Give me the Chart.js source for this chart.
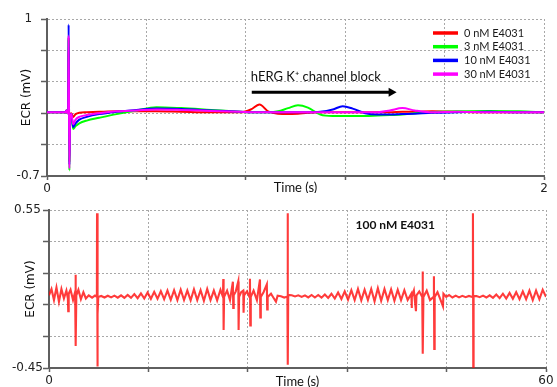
<!DOCTYPE html>
<html lang="en">
<head>
<meta charset="UTF-8">
<title>ECR traces with E4031</title>
<script src="https://cdn.jsdelivr.net/npm/chart.js@4"></script>
<style>
  html, body { margin:0; padding:0; background:#fff; }
  #wrap { position:relative; width:557px; height:387px; overflow:hidden; }
  #topBox { position:absolute; left:0; top:0; width:557px; height:193px; }
  #bottomBox { position:absolute; left:0; top:193px; width:557px; height:194px; }
</style>
</head>
<body>
<div id="wrap">
  <div id="topBox"><canvas id="topChart"></canvas></div>
  <div id="bottomBox"><canvas id="bottomChart"></canvas></div>
</div>
<script>
// ---- top panel: ECR vs time (s) for four E4031 concentrations ----
const topTime = [0, 0.074, 0.078, 0.082, 0.085, 0.087, 0.090, 0.093, 0.098, 0.105,
  0.115, 0.13, 0.16, 0.21, 0.28, 0.36, 0.44, 0.54, 0.66, 0.78,
  0.82, 0.855, 0.89, 0.93, 0.97, 1.01, 1.05, 1.10, 1.15, 1.19,
  1.23, 1.28, 1.33, 1.38, 1.43, 1.48, 1.55, 1.65, 1.78, 1.90, 2.0];
const ecr0nM = [-0.01, -0.01, 0.01, -0.02, -0.01, 0.80, -0.55, -0.03, -0.02, -0.06,
  -0.03, -0.015, -0.01, -0.005, 0.0, 0.0, 0.0, -0.005, -0.01, -0.01,
  0.02, 0.075, 0.0, -0.025, -0.03, -0.025, -0.015, -0.01, -0.01, -0.01,
  -0.01, -0.01, -0.01, -0.01, -0.005, -0.005, 0.0, -0.005, -0.01, -0.01, -0.01];
const ecr3nM = [-0.01, -0.01, 0.01, -0.02, -0.01, 0.78, -0.64, -0.05, -0.04, -0.19,
  -0.16, -0.13, -0.10, -0.07, -0.03, 0.01, 0.045, 0.035, 0.015, -0.005,
  -0.01, -0.01, -0.01, 0.0, 0.035, 0.065, 0.04, -0.035, -0.05, -0.05,
  -0.05, -0.05, -0.045, -0.04, -0.035, -0.02, -0.01, 0.0, 0.005, 0.0, -0.01];
const ecr10nM = [-0.01, -0.01, 0.01, -0.02, -0.01, 0.94, -0.58, -0.04, -0.03, -0.17,
  -0.13, -0.09, -0.06, -0.03, -0.005, 0.015, 0.03, 0.025, 0.01, -0.005,
  -0.01, -0.01, -0.01, -0.01, -0.01, -0.01, -0.01, -0.005, 0.02, 0.055,
  0.03, -0.02, -0.035, -0.035, -0.03, -0.025, -0.015, -0.01, -0.005, -0.01, -0.01];
const ecr30nM = [-0.01, -0.01, 0.01, -0.02, -0.01, 0.82, -0.62, -0.04, -0.03, -0.14,
  -0.09, -0.06, -0.04, -0.02, 0.0, 0.01, 0.02, 0.015, 0.005, -0.005,
  -0.01, -0.01, -0.01, -0.01, -0.01, -0.01, -0.01, -0.01, -0.01, -0.01,
  -0.01, -0.01, -0.01, 0.01, 0.035, 0.01, -0.01, -0.005, -0.01, -0.01, -0.01];
const topLabels = ['0 nM E4031', '3 nM E4031', '10 nM E4031', '30 nM E4031'];
const topColors = ['#ff0000', '#00ff00', '#0000ff', '#ff00ff'];
const topXTicks = ['0', '', '', '', '', '2'];
const topYTicks = ['-0.7', '', '', '', '', '1'];
const blockText = 'hERG K\u207A channel block';
const blockArrow = [0.824, 1.407];   // time span of the arrow (s)
const blockArrowLevel = 0.206;       // ECR level of the arrow
const blockTextLevel = 0.375;

// ---- bottom panel: 60 s trace at 100 nM ----
const bottomTime = [0.0, 0.3, 0.6, 0.9, 1.2, 1.5, 1.8, 2.1, 2.28, 2.32, 2.38, 2.6, 2.9, 3.15, 3.2, 3.24, 3.3, 3.55, 3.85, 4.15,
  4.45, 4.8, 5.2, 5.55, 5.78, 5.8, 5.83, 5.86, 5.9, 5.95, 6.3, 6.7, 7.1, 7.5, 7.9, 8.3, 8.7, 9.1,
  9.5, 9.9, 10.3, 10.7, 11.1, 11.5, 11.9, 12.3, 12.7, 13.1, 13.5, 13.9, 14.3, 14.7, 15.1, 15.5, 15.9, 16.3, 16.7, 17.1,
  17.5, 17.9, 18.3, 18.7, 19.1, 19.5, 19.9, 20.3, 20.7, 21.0, 21.04, 21.08, 21.14, 21.5, 21.85, 22.2, 22.24, 22.3, 22.55,
  22.85, 22.89, 22.95, 23.2, 23.45, 23.49, 23.55, 23.9, 24.2, 24.26, 24.30, 24.36, 24.7, 25.1, 25.47, 25.51, 25.57, 25.9,
  26.3, 26.34, 26.4, 26.8, 27.1, 27.4, 27.6, 28.0, 28.4, 28.78, 28.81, 28.84, 28.88, 29.3, 29.7, 30.1, 30.5, 30.9, 31.3,
  31.7, 32.1, 32.5, 32.9, 33.3, 33.7, 34.1, 34.5, 34.9, 35.3, 35.7, 36.1, 36.5, 36.9, 37.3, 37.7, 38.1, 38.5, 38.9, 39.3,
  39.7, 40.1, 40.5, 40.9, 41.3, 41.7, 42.1, 42.5, 42.9, 43.3, 43.74, 43.78, 43.82, 44.05, 44.3, 44.36, 44.7, 45.06, 45.1,
  45.14, 45.2, 45.6, 46.0, 46.43, 46.47, 46.51, 46.56, 46.9, 47.2, 47.56, 47.62, 47.95, 48.3, 48.7, 49.1, 49.5, 49.9, 50.3,
  50.7, 51.1, 51.18, 51.22, 51.26, 51.6, 52.0, 52.4, 52.8, 53.2, 53.6, 54.0, 54.4, 54.8, 55.2, 55.6, 56.0, 56.4, 56.8,
  57.2, 57.6, 58.0, 58.4, 58.8, 59.2, 59.6, 60.0];
const bottomEcr = [0.01, 0.05, -0.02, 0.06, -0.03, 0.05, -0.01, 0.04, -0.01, -0.09, 0.02, 0.045, -0.02, 0.03, 0.14, -0.31, 0.01, 0.045, -0.015, 0.03,
  -0.01, 0.01, -0.005, 0.008, 0.0, 0.53, -0.44, 0.01, -0.11, 0.0, 0.006, -0.004, 0.007, -0.003, 0.008, -0.005, 0.01, -0.006,
  0.012, -0.006, 0.018, -0.008, 0.022, -0.01, 0.028, -0.012, 0.032, -0.012, 0.036, -0.015, 0.04, -0.018, 0.042, -0.02, 0.045, -0.02, 0.04, -0.022,
  0.048, -0.02, 0.042, -0.025, 0.05, -0.02, 0.04, -0.022, 0.045, 0.0, 0.113, -0.21, 0.0, 0.04, -0.02, 0.096, -0.07, 0.01, 0.035,
  0.098, -0.21, 0.0, 0.03, 0.04, -0.1, 0.01, 0.035, 0.0, 0.115, -0.18, 0.0, 0.04, -0.02, 0.11, -0.13, 0.0, 0.03,
  0.08, -0.08, 0.0, 0.02, -0.005, -0.03, 0.008, 0.004, -0.004, 0.002, 0.53, -0.43, 0.012, 0.01, 0.003, 0.01, 0.0, 0.01, -0.003,
  0.012, -0.004, 0.012, -0.005, 0.015, -0.007, 0.02, -0.01, 0.028, -0.013, 0.035, -0.018, 0.042, -0.02, 0.05, -0.022, 0.045, -0.02, 0.05, -0.028,
  0.055, -0.025, 0.05, -0.02, 0.048, -0.025, 0.045, -0.02, 0.042, -0.02, 0.02, -0.07, 0.0, 0.04, -0.09, 0.01, 0.035, 0.0, 0.16,
  -0.36, 0.0, 0.04, -0.02, 0.0, 0.13, -0.33, 0.0, 0.03, -0.01, -0.06, 0.02, 0.0, 0.012, -0.004, 0.008, -0.003, 0.007, -0.002,
  0.006, 0.0, 0.53, -0.445, 0.005, 0.006, -0.002, 0.008, -0.004, 0.01, -0.006, 0.015, -0.008, 0.02, -0.01, 0.025, -0.012, 0.03, -0.015,
  0.035, -0.015, 0.04, -0.02, 0.04, -0.015, 0.045, 0.0];
const bottomLabel = '100 nM E4031';
const bottomLabelPos = [37.0, 0.452];
const bottomXTicks = ['0', '', '', '', '', '60'];
const bottomYTicks = ['-0.45', '', '', '', '', '0.55'];

Chart.defaults.font.family = "'DejaVu Sans', sans-serif";
Chart.defaults.color = '#222';

const axisColor = '#5f5f5f';
const gridColor = '#a8a8a8';

function panelOptions(p) {
  return {
    responsive: true,
    maintainAspectRatio: false,
    animation: false,
    devicePixelRatio: 1,
    layout: { padding: { top: p.padTop, right: p.padRight, left: 0, bottom: 0 } },
    plugins: { legend: { display: false }, tooltip: { enabled: false } },
    scales: {
      x: {
        type: 'linear', min: p.xMin, max: p.xMax,
        afterFit: s => { s.height = p.xHeight; },
        ticks: { stepSize: p.xStep, autoSkip: false, maxRotation: 0, padding: 2,
          font: { size: 12 }, callback: (v, i) => p.xTicks[i] },
        grid: { color: gridColor, lineWidth: 1, tickLength: 4, tickColor: axisColor, tickWidth: 1.5 },
        border: { color: axisColor, width: 2, dash: [2, 2] },
        title: { display: true, text: 'Time (s)', color: '#111',
          font: { family: 'Lato', size: 13 }, padding: { top: 0, bottom: -3 } }
      },
      y: {
        type: 'linear', min: p.yMin, max: p.yMax,
        afterFit: s => { s.width = p.yWidth; },
        ticks: { stepSize: p.yStep, autoSkip: false, crossAlign: 'center', padding: p.yTickPad,
          font: { size: 12 }, callback: (v, i) => p.yTicks[i] },
        grid: { color: gridColor, lineWidth: 1, tickLength: 6, tickColor: axisColor, tickWidth: 1.5 },
        border: { color: axisColor, width: 2, dash: [2, 2] },
        title: { display: true, text: 'ECR (mV)', color: '#111',
          font: { size: 12 }, padding: { top: p.yTitlePad, bottom: 0 } }
      }
    }
  };
}

// legend + hERG block arrow drawn inside the top plot
const topOverlay = {
  id: 'topOverlay',
  afterDatasetsDraw(chart) {
    const { ctx, scales: { x, y } } = chart;
    ctx.save();
    ctx.textBaseline = 'middle';
    ctx.font = "11px Lato, 'DejaVu Sans'";
    topLabels.forEach((lab, i) => {
      const ly = 33 + i * 13.7;
      ctx.strokeStyle = topColors[i];
      ctx.lineWidth = 3.5;
      ctx.beginPath(); ctx.moveTo(433, ly); ctx.lineTo(458, ly); ctx.stroke();
      ctx.fillStyle = '#1a1a1a';
      ctx.fillText(lab, 464, ly);
    });

    const x0 = x.getPixelForValue(blockArrow[0]);
    const x1 = x.getPixelForValue(blockArrow[1]);
    const ay = y.getPixelForValue(blockArrowLevel);
    ctx.strokeStyle = '#000';
    ctx.fillStyle = '#000';
    ctx.lineWidth = 3;
    ctx.beginPath(); ctx.moveTo(x0, ay); ctx.lineTo(x1 - 6, ay); ctx.stroke();
    ctx.beginPath(); ctx.moveTo(x1, ay); ctx.lineTo(x1 - 8, ay - 4.5); ctx.lineTo(x1 - 8, ay + 4.5); ctx.closePath(); ctx.fill();

    ctx.font = "13px Lato, 'DejaVu Sans'";
    ctx.fillStyle = '#111';
    ctx.fillText(blockText, x.getPixelForValue(blockArrow[0]) - 1, y.getPixelForValue(blockTextLevel));
    ctx.restore();
  }
};

const bottomOverlay = {
  id: 'bottomOverlay',
  afterDatasetsDraw(chart) {
    const { ctx, scales: { x, y } } = chart;
    ctx.save();
    ctx.textBaseline = 'middle';
    ctx.font = "bold 12px Lato, 'DejaVu Sans'";
    ctx.fillStyle = '#111';
    ctx.fillText(bottomLabel, x.getPixelForValue(bottomLabelPos[0]), y.getPixelForValue(bottomLabelPos[1]));
    ctx.restore();
  }
};

const topSeries = [ecr0nM, ecr3nM, ecr10nM, ecr30nM];

new Chart(document.getElementById('topChart'), {
  type: 'line',
  data: {
    datasets: topSeries.map((vals, i) => ({
      label: topLabels[i],
      data: topTime.map((t, j) => ({ x: t, y: vals[j] })),
      borderColor: topColors[i],
      borderWidth: 2,
      pointRadius: 0,
      cubicInterpolationMode: 'monotone',
      order: 3 - i
    }))
  },
  options: panelOptions({
    padTop: 19, padRight: 13, xHeight: 17, yWidth: 47,
    xMin: 0, xMax: 2, xStep: 0.4, xTicks: topXTicks,
    yMin: -0.7, yMax: 1, yStep: 0.34, yTicks: topYTicks,
    yTickPad: 1, yTitlePad: 19.5
  }),
  plugins: [topOverlay]
});

new Chart(document.getElementById('bottomChart'), {
  type: 'line',
  data: {
    datasets: [{
      label: bottomLabel,
      data: bottomTime.map((t, j) => ({ x: t, y: bottomEcr[j] })),
      borderColor: 'rgba(255, 10, 10, 0.8)',
      borderWidth: 2.1,
      pointRadius: 0,
      tension: 0
    }]
  },
  options: panelOptions({
    padTop: 17, padRight: 11, xHeight: 19, yWidth: 49,
    xMin: 0, xMax: 60, xStep: 12, xTicks: bottomXTicks,
    yMin: -0.45, yMax: 0.55, yStep: 0.2, yTicks: bottomYTicks,
    yTickPad: 0, yTitlePad: 24
  }),
  plugins: [bottomOverlay]
});
</script>
</body>
</html>
